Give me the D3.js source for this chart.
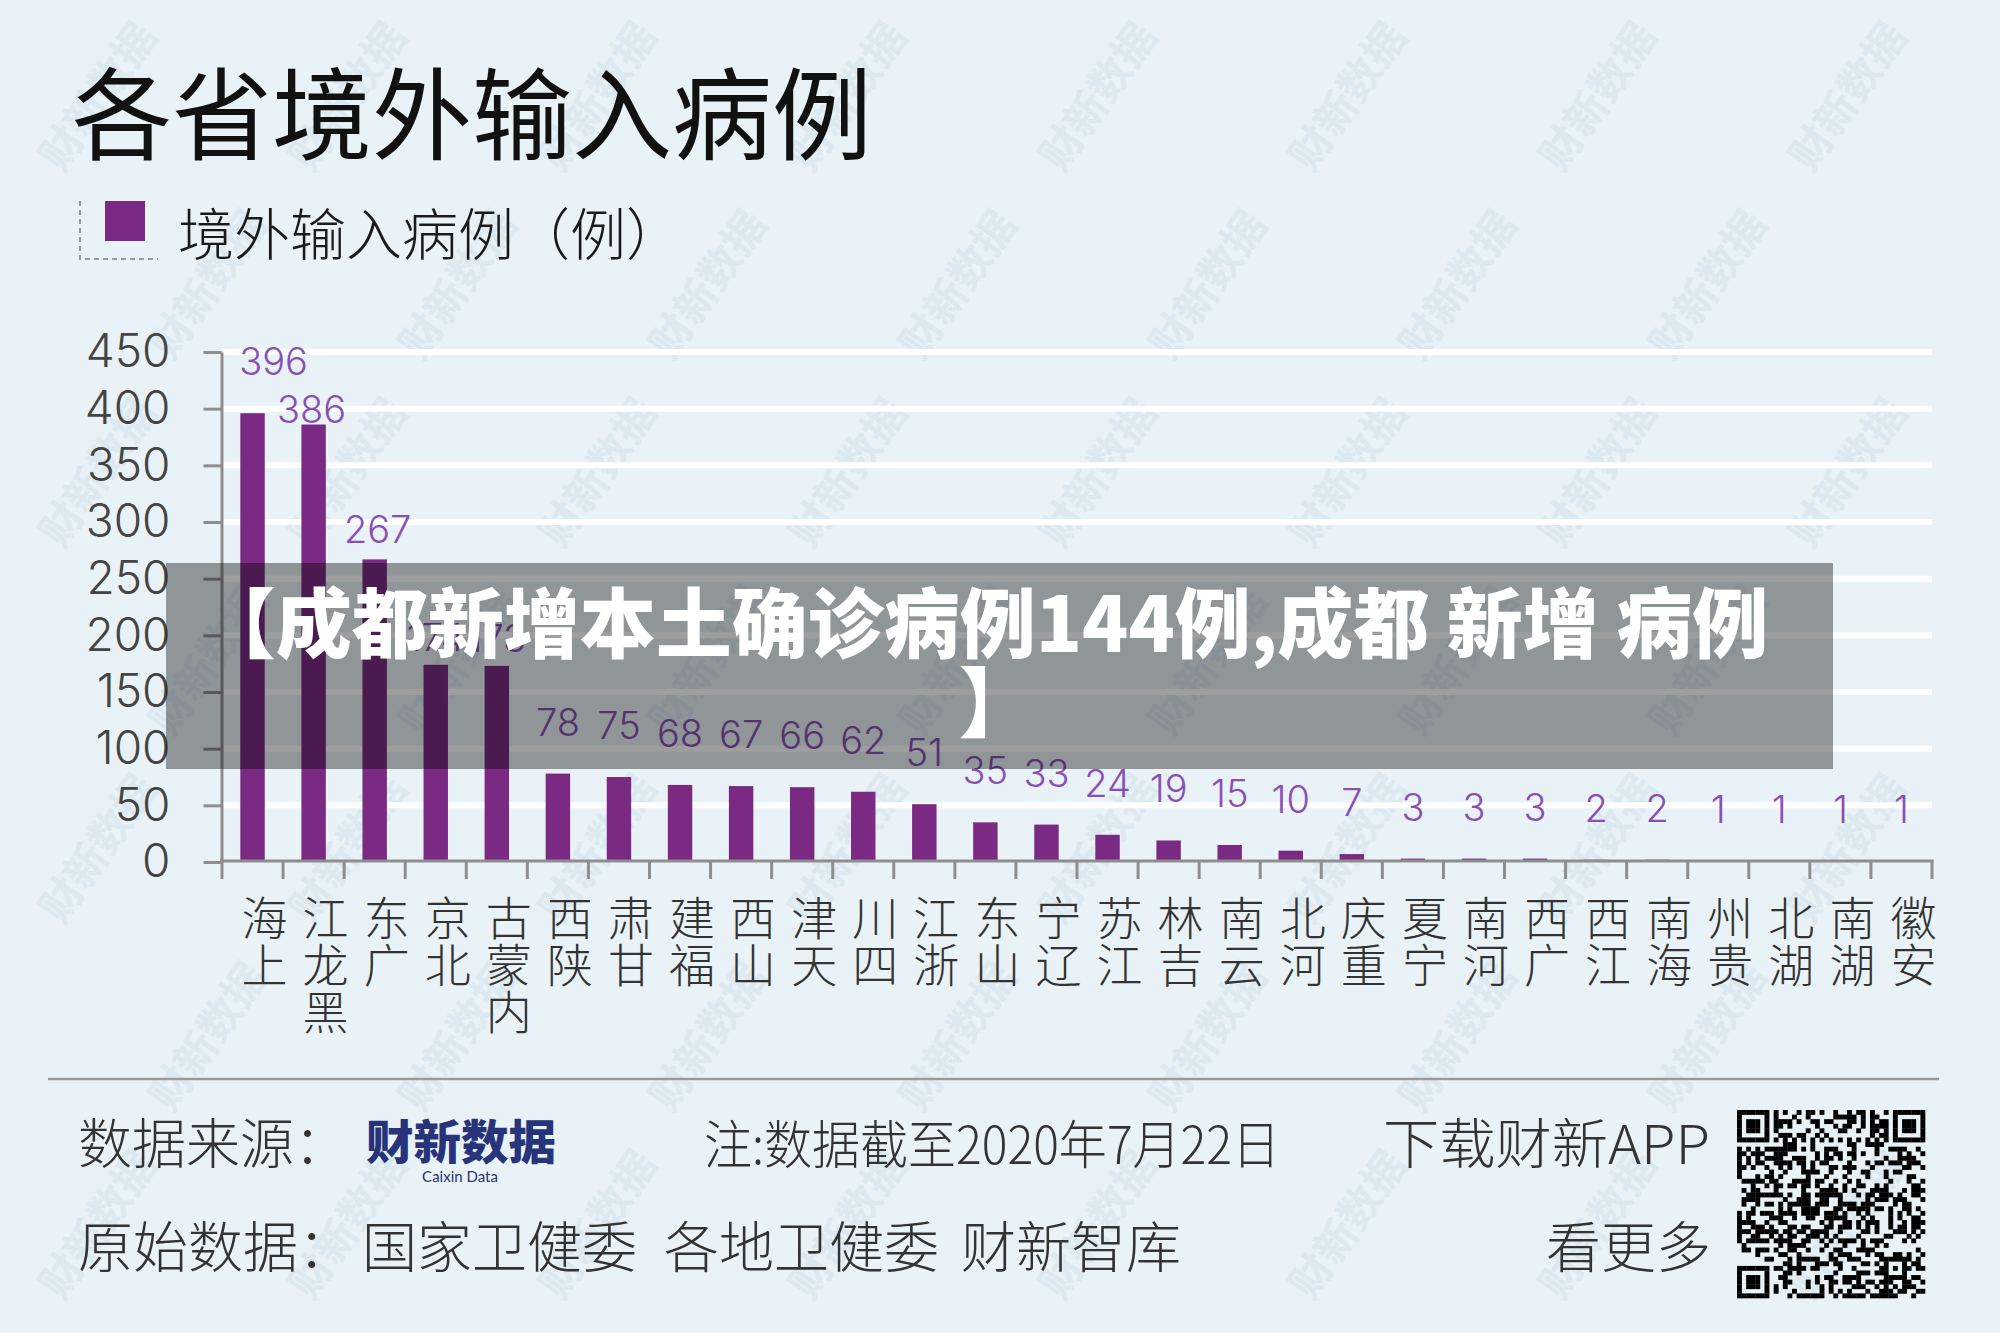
<!DOCTYPE html>
<meta charset="utf-8">
<style>
body { margin: 0; background: #e9f2f6; }
svg { display: block; }
.cjk { font-family: "Noto Sans CJK SC", "Noto Sans", sans-serif; }
.num { font-family: Inter, "Liberation Sans", sans-serif; font-weight: 300; }
.axis path, .axis line { stroke: #8e8e8e; stroke-width: 3; }
</style>
<body>
<script src="https://d3js.org/d3.v7.min.js"></script>
<script>
// data
const provinces = ["上海","黑龙江","广东","北京","内蒙古","陕西","甘肃","福建","山西","天津",
  "四川","浙江","山东","辽宁","江苏","吉林","云南","河北","重庆","宁夏",
  "河南","广西","江西","海南","贵州","湖北","湖南","安徽"];
const cases = [396,386,267,174,173,78,75,68,67,66,62,51,35,33,24,19,15,10,7,3,3,3,2,2,1,1,1,1];
const yTicks = [0,50,100,150,200,250,300,350,400,450];
const seriesName = "境外输入病例（例）";

// hand placed labels in the original (dx, dy)
const labelNudge = {"上海": [21, 0], "黑龙江": [-2, 36], "广东": [3, 22], "北京": [0, 24], "内蒙古": [0, 24]};

const W = 2000, H = 1333,
      purple = "#7a2a82", labelPurple = "#8a4fb5";

const data = provinces.map((p, i) => ({name: p, value: cases[i]}));

const svg = d3.select("body").append("svg")
    .attr("width", W).attr("height", H);

svg.append("rect").attr("width", W).attr("height", H).attr("fill", "#e9f2f6");

// faint watermark, kept inside the frame
const wm = svg.append("g").attr("class", "cjk").attr("aria-hidden", "true");
for (let r = 0; r < 7; r++) {
  for (let c = 0; c < 8; c++) {
    const cx = 110 + c * 250 + (r % 2) * 110, cy = 105 + r * 188;
    if (cx > W - 90) continue;
    wm.append("text")
      .attr("transform", "translate(" + cx + "," + cy + ") rotate(-55)")
      .attr("text-anchor", "middle")
      .attr("font-size", 42).attr("font-weight", 700)
      .attr("fill", "#d5e4ee").attr("opacity", 0.6)
      .text("财新数据");
  }
}

// title + legend
svg.append("text").attr("class", "cjk")
    .attr("x", 72).attr("y", 152)
    .attr("font-size", 100).attr("fill", "#111")
    .text("各省境外输入病例");

svg.append("path")
    .attr("d", "M80,201V259H158")
    .attr("fill", "none").attr("stroke", "#9a9a9a").attr("stroke-width", 2)
    .attr("stroke-dasharray", "5,4");
svg.append("rect")
    .attr("x", 105).attr("y", 201).attr("width", 40).attr("height", 40)
    .attr("fill", purple);
svg.append("text").attr("class", "cjk")
    .attr("x", 178).attr("y", 255)
    .attr("font-size", 56).attr("font-weight", 300).attr("fill", "#1a1a1a")
    .text(seriesName);

// scales
const x = d3.scaleBand()
    .domain(provinces)
    .range([222, 1932])
    .paddingInner(0.6)
    .paddingOuter(0.3);
const y = d3.scaleLinear()
    .domain([0, 450])
    .range([862, 352]);

// grid lines
svg.append("g").selectAll("line")
    .data(yTicks.filter(t => t > 0))
  .enter().append("line")
    .attr("x1", 223).attr("x2", 1932)
    .attr("y1", d => y(d)).attr("y2", d => y(d))
    .attr("stroke", "#fff").attr("stroke-width", 6);

// bars
svg.append("g").selectAll("rect")
    .data(data)
  .enter().append("rect")
    .attr("x", d => x(d.name))
    .attr("width", x.bandwidth())
    .attr("y", d => y(d.value))
    .attr("height", d => y(0) - y(d.value))
    .attr("fill", purple);

// y axis
const yAxis = svg.append("g")
    .attr("class", "axis num")
    .attr("transform", "translate(221.5,0)")
    .call(d3.axisLeft(y).tickValues(yTicks).tickSize(18).tickSizeOuter(0).tickPadding(33));
yAxis.selectAll("text").attr("font-size", 46).attr("fill", "#444")
    .attr("font-family", "Inter, 'Liberation Sans', sans-serif");

// x axis: line + ticks on band edges
const edges = provinces.map(p => x(p) + x.bandwidth() / 2 - x.step() / 2).concat([x.range()[1]]);
const xAxis = svg.append("g").attr("class", "axis");
xAxis.append("line")
    .attr("x1", 220).attr("x2", 1933.5)
    .attr("y1", y(0) - 1).attr("y2", y(0) - 1);
xAxis.selectAll(".tk")
    .data(edges)
  .enter().append("line")
    .attr("class", "tk")
    .attr("x1", d => d).attr("x2", d => d)
    .attr("y1", y(0) - 1).attr("y2", y(0) + 17);

// category labels: upright characters stacked, read bottom to top
const catG = svg.append("g").attr("class", "cjk");
data.forEach(d => {
  const chars = Array.from(d.name).reverse();
  const cx = x(d.name) + x.bandwidth() / 2 + 12;
  chars.forEach((ch, j) => {
    catG.append("text")
      .attr("x", cx).attr("y", 935 + j * 47)
      .attr("text-anchor", "middle")
      .attr("font-size", 46).attr("font-weight", 300).attr("fill", "#333")
      .text(ch);
  });
});

// value labels
svg.append("g").attr("class", "num").selectAll("text")
    .data(data)
  .enter().append("text")
    .attr("x", d => x(d.name) + x.bandwidth() / 2 + (labelNudge[d.name] ? labelNudge[d.name][0] : 0))
    .attr("y", d => y(d.value) - 38 + (labelNudge[d.name] ? labelNudge[d.name][1] : 0))
    .attr("text-anchor", "middle")
    .attr("font-size", 38).attr("fill", labelPurple)
    .text(d => d.value);

// footer
svg.append("line")
    .attr("x1", 48).attr("x2", 1939).attr("y1", 1079).attr("y2", 1079)
    .attr("stroke", "#9a9a9a").attr("stroke-width", 2.5);

const foot = svg.append("g").attr("class", "cjk").attr("fill", "#333").attr("font-weight", 300);
foot.append("text").attr("x", 78).attr("y", 1164).attr("font-size", 54).text("数据来源：");
foot.append("text").attr("x", 704).attr("y", 1164).attr("font-size", 52)
    .attr("textLength", 576).attr("lengthAdjust", "spacingAndGlyphs").text("注:数据截至2020年7月22日");
foot.append("text").attr("x", 1383).attr("y", 1164).attr("font-size", 54)
    .attr("textLength", 327).attr("lengthAdjust", "spacingAndGlyphs").text("下载财新APP");
foot.append("text").attr("x", 78).attr("y", 1267).attr("font-size", 55).text("原始数据：");
foot.append("text").attr("x", 362).attr("y", 1267).attr("font-size", 55).text("国家卫健委");
foot.append("text").attr("x", 664).attr("y", 1267).attr("font-size", 55).text("各地卫健委");
foot.append("text").attr("x", 961).attr("y", 1267).attr("font-size", 55).text("财新智库");
foot.append("text").attr("x", 1711).attr("y", 1267).attr("font-size", 55)
    .attr("text-anchor", "end").text("看更多");

// logo
svg.append("text").attr("class", "cjk")
    .attr("x", 366).attr("y", 1159)
    .attr("font-size", 47).attr("font-weight", 900).attr("fill", "#27337a")
    .attr("textLength", 190).attr("lengthAdjust", "spacingAndGlyphs")
    .text("财新数据");
svg.append("text")
    .attr("x", 460).attr("y", 1182)
    .attr("text-anchor", "middle")
    .attr("font-family", "Lato, 'Open Sans', sans-serif")
    .attr("font-size", 15).attr("fill", "#27337a")
    .text("Caixin Data");

// qr code (decorative)
const qrN = 41, qrS = 188 / qrN, qrX = 1737, qrY = 1110;
function inFinder(i, j) {
  const f = (a, b) => i >= a && i < a + 7 && j >= b && j < b + 7;
  return f(0, 0) || f(qrN - 7, 0) || f(0, qrN - 7);
}
function finderBit(i, j) {
  const li = i >= qrN - 7 ? i - (qrN - 7) : i, lj = j >= qrN - 7 ? j - (qrN - 7) : j;
  const r = Math.max(Math.abs(li - 3), Math.abs(lj - 3));
  return r !== 2;
}
const qrCells = [];
for (let i = 0; i < qrN; i++) {
  for (let j = 0; j < qrN; j++) {
    let on;
    if (inFinder(i, j)) on = finderBit(i, j);
    else if ((i < 8 && (j < 8 || j >= qrN - 8)) || (i >= qrN - 8 && j < 8)) on = false;
    else if (i === 6) on = j % 2 === 0;
    else if (j === 6) on = i % 2 === 0;
    else if (i >= 32 && i < 37 && j >= 32 && j < 37) on = Math.max(Math.abs(i - 34), Math.abs(j - 34)) !== 1;
    else {
      const h = ((i * 73856093) ^ (j * 19349663) ^ (i * j * 83492791)) >>> 0;
      on = (h % 100) < 48;
    }
    if (on) qrCells.push([i, j]);
  }
}
svg.append("g").selectAll("rect")
    .data(qrCells)
  .enter().append("rect")
    .attr("x", d => qrX + d[1] * qrS).attr("y", d => qrY + d[0] * qrS)
    .attr("width", qrS + 0.3).attr("height", qrS + 0.3)
    .attr("fill", "#000");

// headline banner laid over the chart
svg.append("rect")
    .attr("x", 166).attr("y", 563).attr("width", 1667).attr("height", 206)
    .attr("fill", "#000").attr("opacity", 0.38);
const banner = svg.append("text").attr("class", "cjk")
    .attr("text-anchor", "middle")
    .attr("font-size", 76).attr("font-weight", 900).attr("fill", "#fff");
banner.append("tspan").attr("x", 984).attr("y", 652)
    .text("【成都新增本土确诊病例144例,成都 新增 病例");
banner.append("tspan").attr("x", 997).attr("y", 731).text("】");
</script>
</body>
